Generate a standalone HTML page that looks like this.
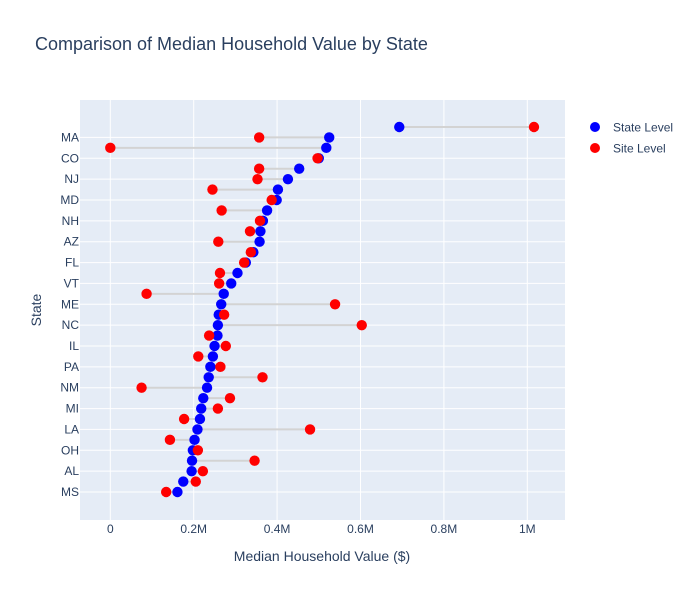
<!DOCTYPE html>
<html><head><meta charset="utf-8"><style>
body{margin:0;background:#fff;font-family:"Liberation Sans",Arial,sans-serif;}
svg text{font-family:"Liberation Sans",Arial,sans-serif;fill:#2a3f5f;}
</style></head><body>
<svg id="chart" width="700" height="600">
<rect x="0" y="0" width="700" height="600" fill="#fff"/>
<text x="35" y="50" font-size="18">Comparison of Median Household Value by State</text>
<rect x="80" y="100" width="485" height="420" fill="#e5ecf6"/>
<g id="grid"></g><g id="lines"></g><g id="blue"></g><g id="red"></g><g id="axes"></g>
<text x="322" y="561" font-size="14" text-anchor="middle">Median Household Value ($)</text>
<text transform="translate(41,310) rotate(-90)" font-size="14" text-anchor="middle">State</text>
<g>
<g><circle cx="595" cy="127" r="5" fill="#0000ff"/><text x="613" y="131.5" font-size="12">State Level</text></g>
<g><circle cx="595" cy="148" r="5" fill="#ff0000"/><text x="613" y="152.5" font-size="12">Site Level</text></g>
</g>
</svg>
<script>
const states=["HI","MA","CA","CO","WA","NJ","OR","MD","UT","NH","CT","AZ","NV","FL","RI","VT","NY","ME","DE","NC","MN","IL","TX","PA","GA","NM","WI","MI","SC","LA","IN","OH","KY","AL","AR","MS"];
const stateLevel=[0.693,0.525,0.518,0.500,0.453,0.426,0.402,0.399,0.376,0.366,0.360,0.358,0.343,0.325,0.305,0.290,0.272,0.266,0.260,0.258,0.257,0.250,0.246,0.240,0.236,0.232,0.223,0.218,0.215,0.209,0.202,0.198,0.196,0.195,0.175,0.161];
const siteLevel=[1.016,0.357,0.0,0.497,0.357,0.353,0.245,0.387,0.267,0.359,0.335,0.259,0.337,0.321,0.263,0.261,0.087,0.539,0.273,0.603,0.237,0.277,0.211,0.264,0.365,0.075,0.287,0.258,0.177,0.479,0.143,0.210,0.346,0.222,0.205,0.134];
const xTicks=[0,0.2,0.4,0.6,0.8,1.0];
const xTickLabels=["0","0.2M","0.4M","0.6M","0.8M","1M"];
const NS="http://www.w3.org/2000/svg";
function X(v){return 110.3+v*417;}
function Y(i){return 127+i*(365/(states.length-1));}
function mk(tag,attrs,parent){const e=document.createElementNS(NS,tag);for(const k in attrs)e.setAttribute(k,attrs[k]);document.getElementById(parent).appendChild(e);return e;}
xTicks.forEach((t,i)=>{
 const g=mk('line',{x1:X(t),x2:X(t),y1:100,y2:520,stroke:'#fff','stroke-width':1},'grid');
 
 
 const l=mk('text',{x:X(t),y:533,'font-size':12,'text-anchor':'middle'},'axes');
 l.textContent=xTickLabels[i];
 
 
});
states.forEach((s,i)=>{
 if(i%2===1){
  const g=mk('line',{x1:80,x2:565,y1:Y(i),y2:Y(i),stroke:'#fff','stroke-width':1},'grid');
  
  
  const l=mk('text',{x:79,y:Y(i)+4,'font-size':12,'text-anchor':'end'},'axes');
  l.textContent=s;
  
  
 }
 const ln=mk('line',{x1:X(stateLevel[i]),x2:X(siteLevel[i]),y1:Y(i),y2:Y(i),stroke:'#d3d3d3','stroke-width':2},'lines');
 
 
 const b=mk('circle',{cx:X(stateLevel[i]),cy:Y(i),r:5.2,fill:'#0000ff'},'blue');
 
 
 const r=mk('circle',{cx:X(siteLevel[i]),cy:Y(i),r:5.2,fill:'#ff0000'},'red');
 
 
});
</script>
</body></html>
